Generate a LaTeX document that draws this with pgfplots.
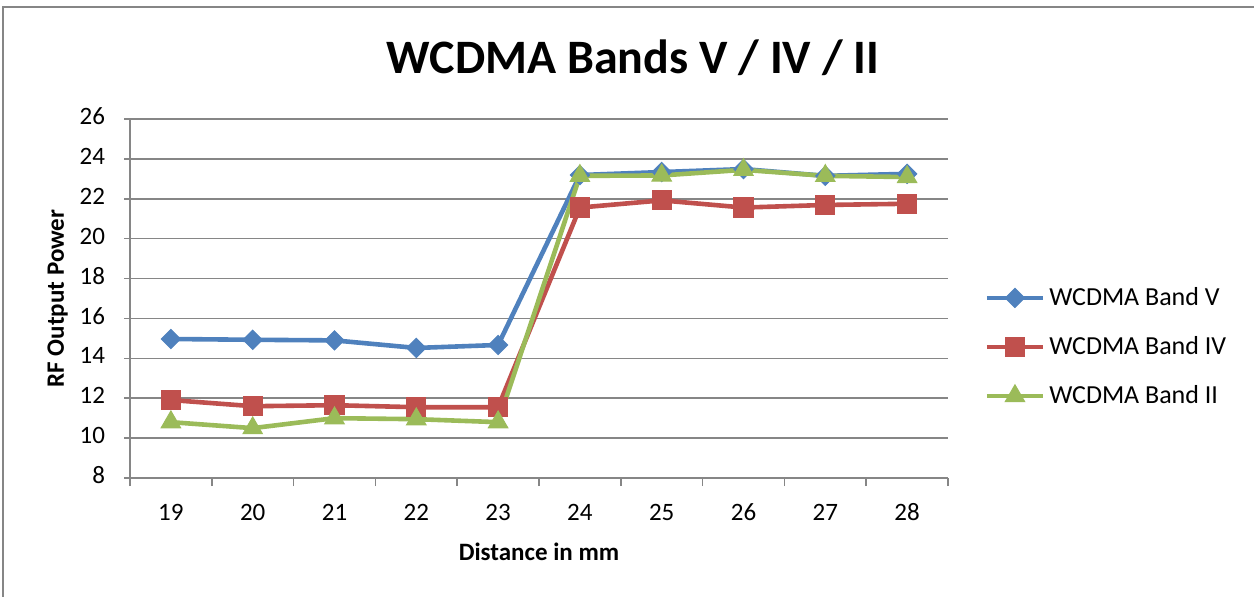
\documentclass[border=0pt]{standalone}
\usepackage{pgfplots}
\pgfplotsset{compat=1.18}
\usepackage{fontspec}
\setmainfont{Carlito}
\definecolor{bandV}{HTML}{4F81BD}
\definecolor{bandIV}{HTML}{C0504D}
\definecolor{bandII}{HTML}{9BBB59}
\definecolor{axgray}{HTML}{868686}
\begin{document}
\begin{tikzpicture}
\useasboundingbox (0pt,0pt) rectangle (627pt,298pt);
% chart frame
\draw[axgray, line width=0.8pt] (1.5pt,-10pt) -- (1.5pt,294.5pt) -- (640pt,294.5pt);
\begin{axis}[
  at={(65pt,59pt)}, anchor=south west,
  scale only axis, width=409pt, height=179.5pt,
  xmin=18.5, xmax=28.5, ymin=8, ymax=26,
  xtick={19,...,28},
  minor xtick={18.5,19.5,...,28.5},
  ytick={8,10,...,26},
  major x tick style={draw=none},
  minor x tick style={axgray, line width=0.8pt},
  y tick style={axgray, line width=0.8pt},
  tick align=outside,
  minor tick length=4pt, major tick length=3pt,
  ymajorgrids,
  grid style={axgray, line width=0.8pt},
  axis x line*=bottom, axis y line*=left,
  axis line style={axgray, line width=0.8pt, -},
  tick label style={font=\fontsize{12.5}{14}\selectfont},
  typeset ticklabels with strut,
  /pgf/number format/assume math mode=true,
  xticklabel style={yshift=-5pt},
  yticklabel style={xshift=-6pt},
  title={\bfseries WCDMA Bands V / IV / II},
  title style={font=\fontsize{24}{28}\selectfont, at={(0.615,1)}, yshift=12pt},
  xlabel={\bfseries Distance in mm},
  ylabel={\bfseries RF Output Power},
  label style={font=\fontsize{12.5}{14}\selectfont},
  xlabel style={yshift=0pt},
  ylabel style={yshift=-1pt},
  legend style={draw=none, fill=none, at={(1.037,0.365)}, anchor=west,
    font=\fontsize{13}{15}\selectfont, row sep=10pt,
    /tikz/every even column/.append style={column sep=2pt}},
  legend cell align=left,
  legend image code/.code={
    \draw[#1, mark repeat=2, mark phase=2] plot coordinates {(0pt,0pt) (14pt,0pt) (28pt,0pt)};},
  every axis plot/.append style={line width=2.3pt},
]
\addplot[color=bandV, mark=square*, mark size=3.4pt, mark options={rotate=45, solid, line width=0.5pt}]
  coordinates {(19,14.97) (20,14.93) (21,14.90) (22,14.52) (23,14.67)
               (24,23.19) (25,23.34) (26,23.49) (27,23.15) (28,23.25)};
\addlegendentry{WCDMA Band V}
\addplot[color=bandIV, mark=square*, mark size=4.8pt, mark options={solid, line width=0.5pt}]
  coordinates {(19,11.91) (20,11.60) (21,11.65) (22,11.55) (23,11.55)
               (24,21.56) (25,21.92) (26,21.56) (27,21.69) (28,21.75)};
\addlegendentry{WCDMA Band IV}
\addplot[color=bandII, mark=triangle*, mark size=5.6pt, mark options={solid, line width=0.5pt}]
  coordinates {(19,10.80) (20,10.50) (21,11.00) (22,10.95) (23,10.80)
               (24,23.15) (25,23.17) (26,23.45) (27,23.15) (28,23.09)};
\addlegendentry{WCDMA Band II}
\end{axis}
\end{tikzpicture}
\end{document}
